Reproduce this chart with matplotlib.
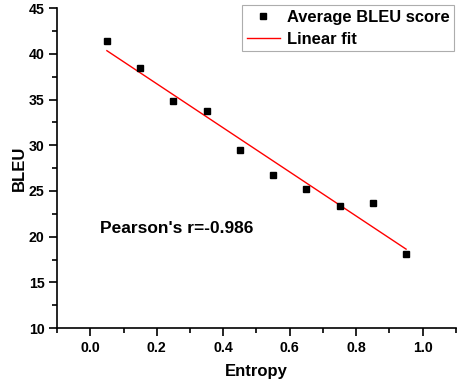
import numpy as np
import matplotlib
matplotlib.use("Agg")
import matplotlib.pyplot as plt
from matplotlib.ticker import MultipleLocator

plt.rcParams['font.family'] = ['Liberation Sans', 'DejaVu Sans']
plt.rcParams['font.weight'] = 'bold'

entropy = [0.05, 0.15, 0.25, 0.35, 0.45, 0.55, 0.65, 0.75, 0.85, 0.95]
bleu = [41.4, 38.4, 34.8, 33.7, 29.5, 26.7, 25.2, 23.4, 23.7, 18.1]
pearson_label = "Pearson's r=-0.986"

x = np.array(entropy)
y = np.array(bleu)
slope, intercept = np.polyfit(x, y, 1)
fit_x = np.array([x.min(), x.max()])
fit_y = slope * fit_x + intercept

fig = plt.figure(figsize=(4.58, 3.86), dpi=100)
ax = fig.add_axes([0.1245, 0.150, 0.871, 0.829])

ax.plot(x, y, 's', color='black', markersize=5, label='Average BLEU score', zorder=3)
ax.plot(fit_x, fit_y, '-', color='red', linewidth=1, label='Linear fit')

ax.set_xlim(-0.1, 1.1)
ax.set_ylim(10, 45)
ax.xaxis.set_minor_locator(MultipleLocator(0.1))
ax.yaxis.set_major_locator(MultipleLocator(5))
ax.yaxis.set_minor_locator(MultipleLocator(2.5))
ax.set_xticks(np.arange(0.0, 1.01, 0.2))
ax.set_xticklabels([f"{v:.1f}" for v in np.arange(0.0, 1.01, 0.2)])

for side in ['top', 'right']:
    ax.spines[side].set_visible(False)
for side in ['left', 'bottom']:
    ax.spines[side].set_linewidth(1.2)

ax.tick_params(which='major', direction='out', length=6, width=1.2, labelsize=10.2, pad=3)
ax.tick_params(which='minor', direction='out', length=3.5, width=1.2)

ax.set_xlabel('Entropy', fontsize=12, fontweight='bold', labelpad=7)
ax.set_ylabel('BLEU', fontsize=12, fontweight='bold', labelpad=1)

ax.text(0.03, 20.9, pearson_label, fontsize=12.5, fontweight='bold', va='center', ha='left')

leg = ax.legend(loc='upper right', bbox_to_anchor=(1.0, 1.015), fontsize=11.9, frameon=True,
                fancybox=False, edgecolor='#999999', handlelength=2.0, handletextpad=0.4,
                borderpad=0.3, labelspacing=0.4, borderaxespad=0.1)
leg.get_frame().set_linewidth(0.8)

fig.savefig('out.png', dpi=100)
